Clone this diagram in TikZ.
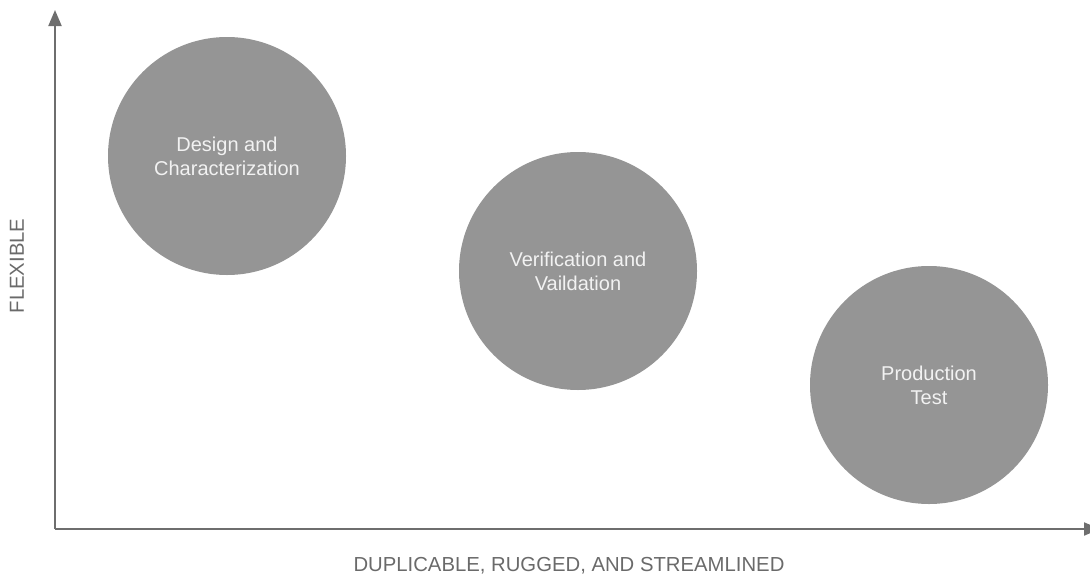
\documentclass[tikz,border=0pt]{standalone}
\usepackage{fontspec}
\setmainfont{Liberation Sans}
\usetikzlibrary{arrows.meta}
\definecolor{phase}{HTML}{959595}
\definecolor{phtext}{HTML}{F2F2F2}
\definecolor{axis}{HTML}{6E6E6E}
\definecolor{axlabel}{HTML}{6A6A6A}
\begin{document}
\begin{tikzpicture}[x=1pt,y=-1pt,
  ph/.style={circle,fill=phase,minimum size=238pt,inner sep=0pt,align=center,
    text=phtext,font=\fontsize{20}{24}\selectfont},
  ax/.style={-{Triangle[length=16pt,width=13pt]},line width=2pt,draw=axis},
  lb/.style={text=axlabel,font=\fontsize{20.3}{22}\selectfont}]
  \useasboundingbox (0,0) rectangle (1090,576);
  \coordinate (O) at (55,529);
  \coordinate (Ytop) at (55,10);
  \coordinate (Xend) at (1100,529);
  \draw[ax] (O) -- (Ytop);
  \draw[ax] (O) -- (Xend);
  \foreach \n/\x/\y/\txt in {DC/227/156/{Design and\\Characterization},
                             VV/578/271/{Verification and\\Vaildation},
                             PT/929/385/{Production\\Test}}
    \node[ph] (\n) at (\x,\y) {\txt};
  \node[lb,rotate=90] (flex) at (17,266) {FLEXIBLE};
  \node[lb] (dup) at (569,566) {DUPLICABLE, RUGGED, AND STREAMLINED};
\end{tikzpicture}
\end{document}
